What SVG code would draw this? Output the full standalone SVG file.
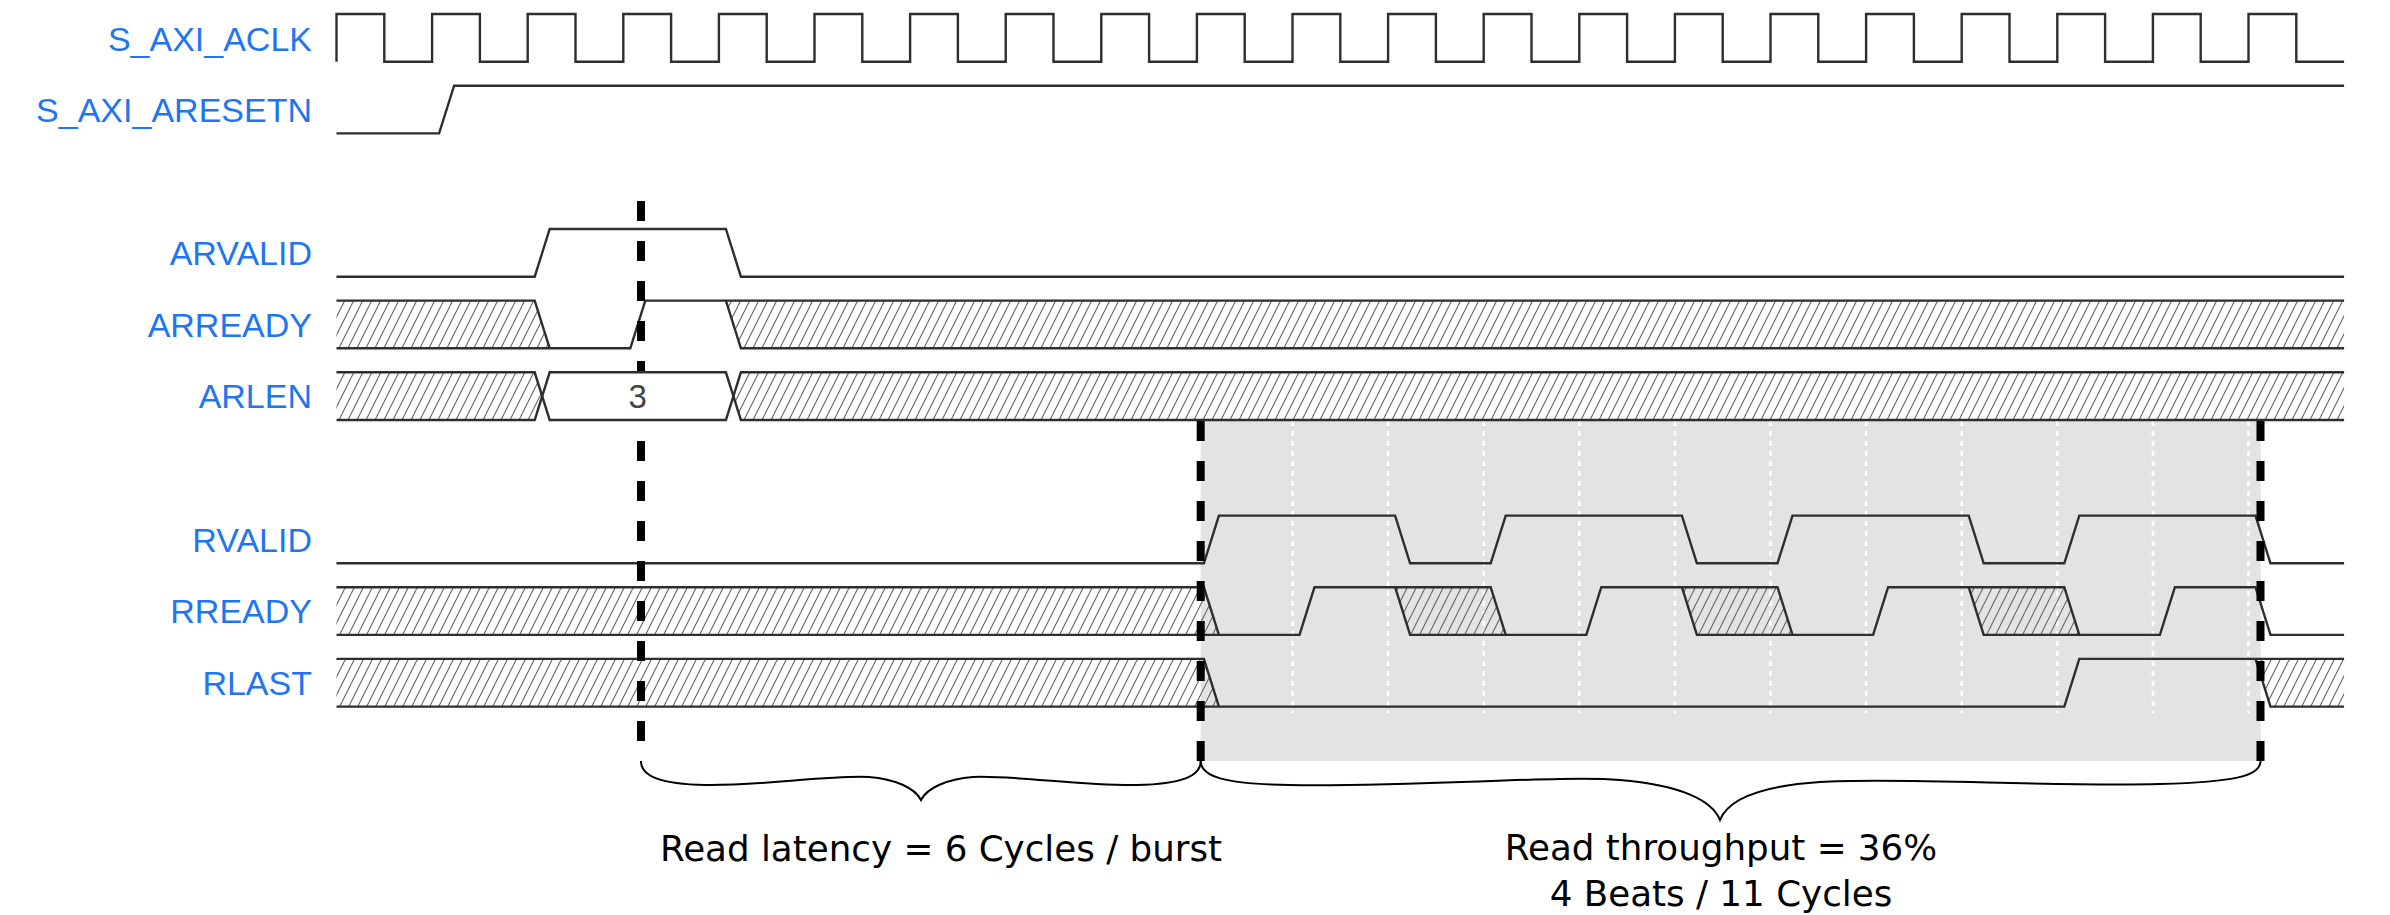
<svg xmlns="http://www.w3.org/2000/svg" width="2390" height="915" viewBox="0 0 2390 915">
<defs>
<pattern id="hatch" patternUnits="userSpaceOnUse" width="9" height="18">
<path d="M-9,18 L0,0 M0,18 L9,0 M9,18 L18,0" stroke="#666" stroke-width="1.1" fill="none"/>
</pattern>
<style>
.lbl{font-family:"Liberation Sans",Arial,sans-serif;font-size:34px;fill:#2176f0;text-anchor:end}
.w{fill:none;stroke:#2e2e2e;stroke-width:2.4;stroke-linejoin:miter}
.x{fill:url(#hatch);stroke:none}
.grid{stroke:#ffffff;stroke-width:2.5;stroke-dasharray:5 5;fill:none}
.mark{stroke:#000;stroke-width:8;stroke-dasharray:20 20;fill:none}
.brace{fill:none;stroke:#000;stroke-width:2}
.note{font-family:"DejaVu Sans",Verdana,sans-serif;font-size:35.7px;fill:#000;text-anchor:middle}
.val{font-family:"Liberation Sans",Arial,sans-serif;font-size:33px;fill:#444;text-anchor:middle}
</style>
</defs>
<rect width="2390" height="915" fill="#fff"/>
<g id="window">
<rect x="1200.7" y="420.5" width="1060" height="340.5" fill="#e3e3e3"/>
<path class="grid" d="M1292.5,421V713M1388.1,421V713M1483.7,421V713M1579.3,421V713M1674.9,421V713M1770.5,421V713M1866.1,421V713M1961.7,421V713M2057.3,421V713M2152.9,421V713M2248.5,421V713"/>
</g>
<g id="s_axi_aclk">
<text class="lbl" x="312" y="50.5">S_AXI_ACLK</text>
<path class="w" d="M336.5,61.7V14H384.3V61.7H432.1V14H479.9V61.7H527.7V14H575.5V61.7H623.3V14H671.1V61.7H718.9V14H766.7V61.7H814.5V14H862.3V61.7H910.1V14H957.9V61.7H1005.7V14H1053.5V61.7H1101.3V14H1149.1V61.7H1196.9V14H1244.7V61.7H1292.5V14H1340.3V61.7H1388.1V14H1435.9V61.7H1483.7V14H1531.5V61.7H1579.3V14H1627.1V61.7H1674.9V14H1722.7V61.7H1770.5V14H1818.3V61.7H1866.1V14H1913.9V61.7H1961.7V14H2009.5V61.7H2057.3V14H2105.1V61.7H2152.9V14H2200.7V61.7H2248.5V14H2296.3V61.7H2344.1"/>
</g>
<g id="s_axi_aresetn">
<text class="lbl" x="312" y="122">S_AXI_ARESETN</text>
<path class="w" d="M336.5,133.4H439.1L454.1,85.7H2344.1"/>
</g>
<g id="arvalid">
<text class="lbl" x="312" y="265">ARVALID</text>
<path class="w" d="M336.5,276.7H534.7L549.7,229H725.9L740.9,276.7H2344.1"/>
</g>
<g id="arready">
<text class="lbl" x="312" y="336.7">ARREADY</text>
<polygon class="x" points="336.5,300.6 534.7,300.6 549.7,348.3 336.5,348.3"/>
<polygon class="x" points="725.9,300.6 2344.1,300.6 2344.1,348.3 740.9,348.3"/>
<path class="w" d="M336.5,300.6H534.7L549.7,348.3"/>
<path class="w" d="M336.5,348.3H630.3L645.3,300.6H2344.1"/>
<path class="w" d="M725.9,300.6L740.9,348.3H2344.1"/>
</g>
<g id="rvalid">
<text class="lbl" x="312" y="551.7">RVALID</text>
<path class="w" d="M336.5,563.3H1203.9L1218.9,515.6H1395.1L1410.1,563.3H1490.7L1505.7,515.6H1681.9L1696.9,563.3H1777.5L1792.5,515.6H1968.7L1983.7,563.3H2064.3L2079.3,515.6H2255.5L2270.5,563.3H2344.1"/>
</g>
<g id="rready">
<text class="lbl" x="312" y="623.3">RREADY</text>
<polygon class="x" points="336.5,587.2 1203.9,587.2 1218.9,634.9 336.5,634.9"/>
<polygon class="x" points="1395.1,587.2 1490.7,587.2 1505.7,634.9 1410.1,634.9"/>
<polygon class="x" points="1681.9,587.2 1777.5,587.2 1792.5,634.9 1696.9,634.9"/>
<polygon class="x" points="1968.7,587.2 2064.3,587.2 2079.3,634.9 1983.7,634.9"/>
<path class="w" d="M336.5,587.2H1203.9L1218.9,634.9"/>
<path class="w" d="M336.5,634.9H1299.5L1314.5,587.2H1490.7L1505.7,634.9H1586.3L1601.3,587.2H1777.5L1792.5,634.9H1873.1L1888.1,587.2H2064.3L2079.3,634.9H2159.9L2174.9,587.2H2255.5L2270.5,634.9H2344.1"/>
<path class="w" d="M1395.1,587.2L1410.1,634.9H1505.7M1681.9,587.2L1696.9,634.9H1792.5M1968.7,587.2L1983.7,634.9H2079.3"/>
</g>
<g id="rlast">
<text class="lbl" x="312" y="695">RLAST</text>
<polygon class="x" points="336.5,658.9 1203.9,658.9 1218.9,706.6 336.5,706.6"/>
<polygon class="x" points="2255.5,658.9 2344.1,658.9 2344.1,706.6 2270.5,706.6"/>
<path class="w" d="M336.5,658.9H1203.9L1218.9,706.6"/>
<path class="w" d="M336.5,706.6H2064.3L2079.3,658.9H2344.1"/>
<path class="w" d="M2255.5,658.9L2270.5,706.6H2344.1"/>
</g>
<g id="connectors">
<path class="mark" d="M641,201V741"/>
<path class="mark" d="M1200.7,421V761"/>
<path class="mark" d="M2260.5,421V761"/>
<path class="brace" d="M641,761C641,777 662,784 705,785C760,786 830,775 869,777C895,779 915,788 921,800C927,788 947,779 973,777C1012,775 1082,786 1137,785C1180,784 1200.7,777 1200.7,761"/>
<path class="brace" d="M1200.7,761C1201,777 1225,784 1290,785C1420,787 1560,775 1620,780C1680,785 1712,800 1720,820C1728,800 1760,786 1820,782C1900,777 2050,787 2160,784C2235,782 2260.5,776 2260.5,761"/>
</g>
<g id="arlen">
<text class="lbl" x="312" y="408.3">ARLEN</text>
<polygon class="x" points="336.5,372.3 534.7,372.3 542.2,396.15 534.7,420 336.5,420"/>
<polygon class="x" points="733.4,396.15 740.9,372.3 2344.1,372.3 2344.1,420 740.9,420"/>
<polygon points="542.2,396.15 549.7,372.3 725.9,372.3 733.4,396.15 725.9,420 549.7,420" fill="#fff"/>
<path class="w" d="M336.5,372.3H534.7L549.7,420H725.9L740.9,372.3H2344.1"/>
<path class="w" d="M336.5,420H534.7L549.7,372.3H725.9L740.9,420H2344.1"/>
<text class="val" x="637.8" y="408.3">3</text>
</g>
<g id="notes">
<text class="note" x="941" y="861">Read latency = 6 Cycles / burst</text>
<text class="note" x="1721" y="860">Read throughput = 36%</text>
<text class="note" x="1721" y="905.5">4 Beats / 11 Cycles</text>
</g>
</svg>
